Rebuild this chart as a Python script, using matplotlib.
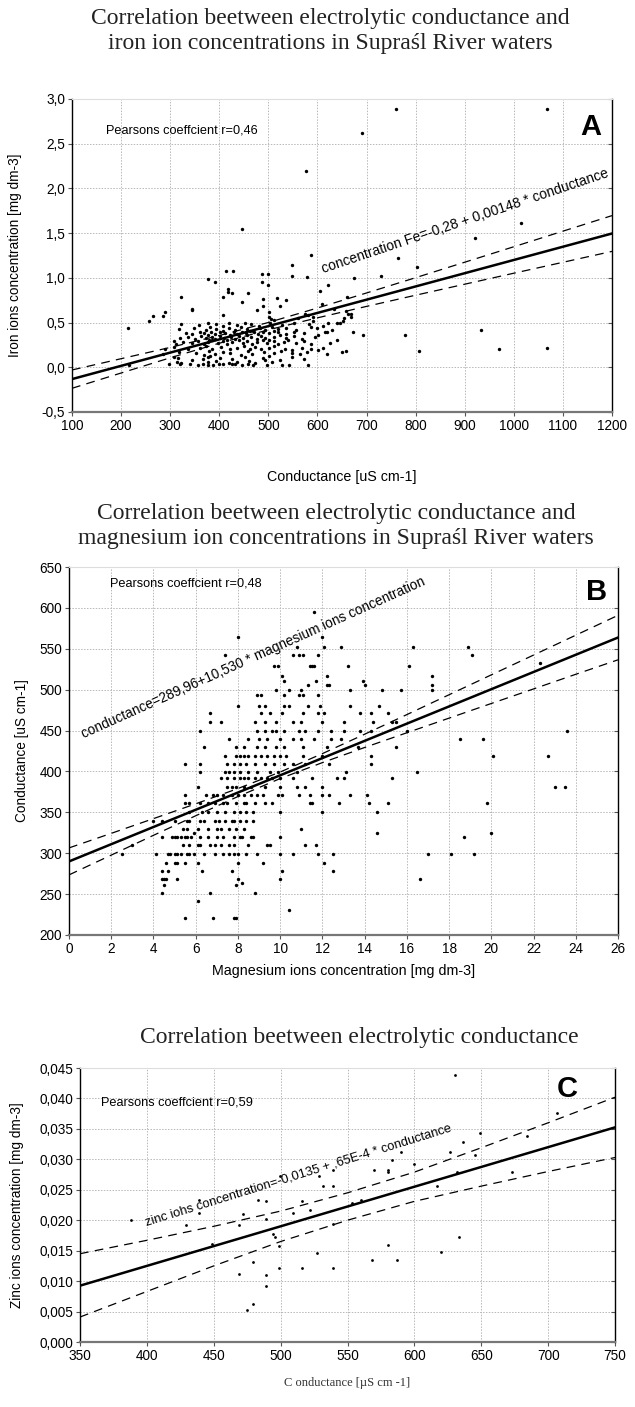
import numpy as np
import matplotlib
matplotlib.use("Agg")
import matplotlib.pyplot as plt
from matplotlib.lines import TICKLEFT

plt.rcParams['font.family'] = ['Liberation Sans', 'DejaVu Sans']

# ---------------- Panel A data (iron vs conductance) ----------------
A_title = "Correlation beetween electrolytic conductance and\niron ion concentrations in Supraśl River waters"
A_x = [216, 297, 320, 341, 356, 367, 377, 387, 399, 407, 426, 432, 447, 459, 469, 497, 527, 543, 581,
       313, 323, 344, 378, 394, 419, 436, 461, 472, 494, 507,
       307, 316, 367, 378, 382, 402, 426, 453, 490, 524, 548, 573,
       286, 317, 353, 368, 379, 392, 408, 422, 444, 459, 467, 492, 502, 512, 525, 549, 565, 578,
       290, 308, 336, 361, 373, 386, 403, 422, 437, 451, 462, 472, 486, 501, 511, 533, 549, 569, 586,
       307, 311, 326, 344, 357, 369, 378, 386, 398, 407, 415, 426, 440, 449, 457, 466, 477, 490, 498, 511, 519, 532, 540, 557, 573, 586,
       319, 336, 351, 362, 373, 379, 386, 392, 401, 409, 416, 423, 432, 440, 448, 457, 465, 476, 486, 494, 502, 512, 523, 536, 552, 569, 594,
       332, 344, 361, 369, 378, 384, 392, 402, 412, 421, 429, 437, 446, 454, 462, 471, 479, 490, 501, 511, 519, 536, 552, 573, 602, 619,
       317, 348, 373, 382, 394, 407, 419, 432, 444, 457, 469, 482, 494, 507, 519, 536, 557, 586,
       323, 359, 378, 394, 407, 419, 436, 453, 465, 480, 503, 527, 552, 582, 611, 622,
       214, 257, 266, 286, 289, 323, 344, 344, 377, 392, 414, 428, 418, 418, 426, 408, 447, 447, 458, 488,
       500, 488, 500, 489, 489, 477, 501, 502, 506, 512, 517, 524, 536, 549, 549, 578, 577, 586, 606, 610,
       622, 634, 639, 660, 659, 675, 691, 729, 760, 765, 802, 692, 778, 806, 659, 620, 601, 921, 933, 969,
       1015, 1068, 1068, 407, 560, 575, 590, 600, 615, 630, 645, 655, 668, 672, 640, 625, 612, 650, 668, 580,
       590, 652, 663]
A_y = [0.02, 0.04, 0.04, 0.04, 0.02, 0.04, 0.02, 0.03, 0.04, 0.04, 0.04, 0.04, 0.02, 0.04, 0.02, 0.02, 0.02, 0.02, 0.02,
       0.06, 0.05, 0.08, 0.06, 0.07, 0.05, 0.06, 0.07, 0.05, 0.08, 0.06,
       0.12, 0.10, 0.09, 0.11, 0.13, 0.10, 0.09, 0.12, 0.10, 0.08, 0.11, 0.09,
       0.15, 0.17, 0.16, 0.14, 0.18, 0.15, 0.17, 0.16, 0.14, 0.18, 0.15, 0.17, 0.13, 0.16, 0.18, 0.16, 0.15, 0.17,
       0.21, 0.23, 0.20, 0.22, 0.24, 0.21, 0.23, 0.20, 0.22, 0.24, 0.21, 0.23, 0.20, 0.22, 0.24, 0.21, 0.19, 0.22, 0.20,
       0.29, 0.26, 0.28, 0.27, 0.29, 0.26, 0.28, 0.30, 0.27, 0.29, 0.26, 0.28, 0.30, 0.27, 0.29, 0.26, 0.28, 0.30, 0.27, 0.29, 0.26, 0.28, 0.30, 0.27, 0.29, 0.26,
       0.33, 0.34, 0.32, 0.35, 0.33, 0.31, 0.34, 0.32, 0.35, 0.33, 0.31, 0.34, 0.32, 0.35, 0.33, 0.36, 0.34, 0.32, 0.35, 0.33, 0.31, 0.34, 0.36, 0.33, 0.35, 0.32, 0.34,
       0.38, 0.37, 0.39, 0.38, 0.36, 0.39, 0.37, 0.40, 0.38, 0.36, 0.39, 0.37, 0.40, 0.38, 0.41, 0.39, 0.37, 0.40, 0.38, 0.41, 0.39, 0.37, 0.40, 0.38, 0.36, 0.39,
       0.43, 0.44, 0.42, 0.45, 0.43, 0.41, 0.44, 0.42, 0.45, 0.43, 0.41, 0.44, 0.42, 0.45, 0.43, 0.44, 0.42, 0.45,
       0.48, 0.47, 0.49, 0.48, 0.46, 0.49, 0.47, 0.50, 0.48, 0.46, 0.49, 0.47, 0.50, 0.48, 0.46, 0.49,
       0.44, 0.52, 0.57, 0.57, 0.62, 0.79, 0.65, 0.64, 0.99, 0.95, 1.08, 1.08, 0.87, 0.84, 0.83, 0.79, 0.73, 1.55, 0.83, 1.04,
       1.04, 0.95, 0.92, 0.76, 0.68, 0.64, 0.62, 0.56, 0.54, 0.53, 0.77, 0.69, 0.75, 1.14, 1.02, 1.01, 2.19, 1.26, 0.85, 0.71,
       0.92, 0.65, 0.49, 0.79, 0.63, 1.00, 2.62, 1.02, 2.89, 1.22, 1.12, 0.36, 0.36, 0.18, 0.18, 0.15, 0.19, 1.45, 0.42, 0.21,
       1.61, 2.89, 0.22, 0.58, 0.55, 0.60, 0.52, 0.44, 0.40, 0.42, 0.50, 0.55, 0.60, 0.40, 0.30, 0.27, 0.22, 0.17, 0.56, 0.58,
       0.56, 0.52, 0.60]
A_fit_x = [100, 200, 300, 400, 500, 600, 700, 800, 900, 1000, 1100, 1200]
A_fit_y = [-0.132, 0.016, 0.164, 0.312, 0.460, 0.608, 0.756, 0.904, 1.052, 1.200, 1.348, 1.496]
A_upper = [-0.03, 0.096, 0.222, 0.355, 0.501, 0.663, 0.831, 1.002, 1.175, 1.348, 1.522, 1.696]
A_lower = [-0.235, -0.064, 0.106, 0.269, 0.419, 0.553, 0.681, 0.806, 0.929, 1.052, 1.174, 1.296]
A_xticks = [100, 200, 300, 400, 500, 600, 700, 800, 900, 1000, 1100, 1200]
A_yticks = [-0.5, 0.0, 0.5, 1.0, 1.5, 2.0, 2.5, 3.0]
A_yticklabels = ['-0,5', '0,0', '0,5', '1,0', '1,5', '2,0', '2,5', '3,0']
A_xlabel = "Conductance [uS cm-1]"
A_ylabel = "Iron ions concentration [mg dm-3]"
A_pearson = "Pearsons coeffcient r=0,46"
A_eq = "concentration Fe=-0,28 + 0,00148 * conductance"

# ---------------- Panel B data (conductance vs magnesium) ----------------
B_title = "Correlation beetween electrolytic conductance and\nmagnesium ion concentrations in Supraśl River waters"
B_rows = {
    221: [5.5, 6.8, 7.8, 7.9],
    230: [10.4],
    241: [6.1],
    251: [4.4, 6.7, 8.8],
    261: [4.5, 7.9],
    264: [8.2],
    269: [4.4, 4.5, 4.6, 5.1, 8.0, 10.0, 16.6],
    278: [4.4, 4.7, 6.3, 7.7, 10.1, 12.5],
    288: [4.6, 5.0, 5.1, 5.5, 6.1, 8.0, 9.2, 12.1],
    299: [2.5, 4.1, 4.7, 4.8, 5.0, 5.1, 5.3, 5.6, 5.7, 5.9, 6.4, 6.9, 7.3, 7.6, 7.8, 8.0, 8.4, 8.9, 10.0, 10.6, 11.8, 12.5, 17.0, 18.1, 19.2],
    310: [3.0, 5.4, 5.7, 6.1, 6.2, 6.7, 6.9, 7.2, 7.6, 7.8, 8.5, 9.4, 9.5, 11.2, 11.7],
    320: [4.4, 4.9, 5.0, 5.1, 5.3, 5.5, 5.6, 5.8, 6.2, 6.6, 7.0, 7.3, 7.8, 8.1, 8.2, 8.6, 8.7, 10.0, 18.7],
    325: [5.9, 14.6, 20.0],
    330: [5.4, 5.6, 6.1, 6.6, 7.0, 7.2, 7.6, 7.9, 8.3, 11.0],
    340: [4.0, 4.4, 5.0, 5.6, 5.7, 6.2, 6.4, 6.9, 7.1, 7.4, 7.7, 7.8, 8.1, 8.4, 8.7],
    350: [5.7, 6.3, 6.6, 7.0, 7.4, 7.8, 8.1, 8.4, 8.7, 10.0, 12.0, 14.6],
    361: [5.5, 5.7, 6.2, 6.6, 6.9, 7.3, 7.5, 7.9, 8.3, 8.4, 8.8, 9.3, 9.6, 11.4, 11.5, 12.8, 14.2, 15.1, 19.8],
    371: [5.5, 6.5, 6.8, 7.0, 7.3, 7.7, 8.0, 8.3, 8.6, 8.9, 9.2, 9.9, 10.1, 10.9, 11.4, 12.0, 12.3, 13.3, 14.1],
    381: [6.1, 7.5, 7.7, 7.9, 8.3, 8.6, 9.3, 10.0, 10.8, 11.2, 12.0, 23.0, 23.5],
    392: [7.2, 7.5, 7.8, 8.1, 8.3, 8.5, 8.8, 9.1, 9.4, 9.6, 10.0, 10.6, 11.5, 12.7, 13.0, 15.3],
    399: [6.2, 7.4, 7.6, 7.8, 8.1, 8.5, 8.9, 9.5, 9.9, 10.8, 13.1, 16.5],
    409: [5.5, 6.2, 7.5, 7.8, 8.1, 8.4, 8.8, 9.3, 9.7, 10.2, 10.6, 11.2, 12.3, 14.3],
    419: [7.4, 7.9, 8.1, 8.3, 8.5, 8.8, 9.1, 9.4, 9.7, 10.0, 10.3, 11.1, 12.0, 14.3, 20.1, 22.7],
    430: [6.4, 7.9, 8.3, 8.9, 9.3, 9.8, 10.2, 11.1, 12.2, 13.7, 15.5],
    440: [7.6, 8.5, 9.0, 9.4, 10.0, 10.6, 11.0, 11.6, 12.4, 12.9, 18.5, 19.6],
    450: [6.2, 8.9, 9.3, 9.6, 9.8, 10.2, 10.9, 11.2, 11.8, 12.4, 13.0, 13.8, 14.3, 16.0, 23.6],
    460: [6.7, 7.2, 8.8, 9.3, 9.8, 10.6, 11.0, 12.0, 13.0, 14.4, 15.3, 15.5],
    471: [6.7, 9.1, 9.5, 10.1, 11.1, 11.8, 12.1, 13.8, 14.3, 15.1],
    480: [8.0, 9.0, 9.3, 10.2, 10.4, 11.3, 11.9, 13.3, 14.7],
    493: [8.9, 9.1, 10.2, 10.9, 11.1, 11.8],
    499: [9.8, 10.4, 11.0, 13.3, 14.8, 15.7, 17.2],
    506: [11.3, 12.2, 12.3, 14.0, 17.2],
    511: [10.2, 11.7, 13.9],
    517: [10.1, 12.2, 17.2],
    529: [9.7, 9.9, 11.4, 11.5, 11.6, 13.2, 16.1],
    532: [22.3],
    542: [7.4, 10.6, 10.9, 11.1, 11.8, 19.1],
    552: [10.8, 12.1, 12.9, 16.3, 18.9],
    565: [8.0, 12.0],
    595: [11.6],
}
B_fit_x = [0, 2, 4, 6, 8, 10, 12, 14, 16, 18, 20, 22, 24, 26]
B_fit_y = [289.96, 311.02, 332.08, 353.14, 374.2, 395.26, 416.32, 437.38, 458.44, 479.5, 500.56, 521.62, 542.68, 563.74]
B_upper = [306.5, 324.3, 342.3, 360.4, 379.1, 399.3, 421.8, 445.5, 469.5, 493.8, 518.1, 542.3, 566.6, 590.9]
B_lower = [273.5, 297.7, 321.9, 345.8, 369.3, 391.3, 410.8, 429.3, 447.3, 465.2, 483.1, 500.9, 518.8, 536.5]
B_xticks = [0, 2, 4, 6, 8, 10, 12, 14, 16, 18, 20, 22, 24, 26]
B_yticks = [200, 250, 300, 350, 400, 450, 500, 550, 600, 650]
B_xlabel = "Magnesium ions concentration [mg dm-3]"
B_ylabel = "Conductance [uS cm-1]"
B_pearson = "Pearsons coeffcient r=0,48"
B_eq = "conductance=289,96+10,530 * magnesium ions concentration"

# ---------------- Panel C data (zinc vs conductance) ----------------
C_title = "Correlation beetween electrolytic conductance"
C_x = [388, 429, 439, 439, 449, 469, 472, 469, 479, 479, 475, 483, 489, 489, 489, 489, 494, 496, 499, 499,
       499.5, 509, 516, 516, 522, 527, 529, 532, 539, 539, 539, 539, 553, 560, 568, 570, 580, 580, 580, 583,
       587, 590, 600, 617, 620, 627, 630, 632, 633, 636, 645, 649, 673, 684, 707]
C_y = [0.0201, 0.0192, 0.0234, 0.0212, 0.0161, 0.0192, 0.0210, 0.0111, 0.0132, 0.0062, 0.0052, 0.0234, 0.0232, 0.0202, 0.0110, 0.0092, 0.0178, 0.0172, 0.0157, 0.0121,
       0.0272, 0.0212, 0.0232, 0.0121, 0.0217, 0.0146, 0.0272, 0.0256, 0.0283, 0.0256, 0.0194, 0.0121, 0.0228, 0.0234, 0.0135, 0.0283, 0.0283, 0.0280, 0.0159, 0.0299,
       0.0135, 0.0312, 0.0293, 0.0256, 0.0148, 0.0312, 0.0438, 0.0279, 0.0173, 0.0328, 0.0307, 0.0344, 0.0279, 0.0339, 0.0376]
C_fit_x = [350, 400, 450, 500, 550, 600, 650, 700, 750]
C_fit_y = [0.00925, 0.0125, 0.01575, 0.019, 0.02225, 0.0255, 0.02875, 0.032, 0.03525]
C_upper = [0.0145, 0.0167, 0.0190, 0.0215, 0.0245, 0.0279, 0.0319, 0.0360, 0.0402]
C_lower = [0.0041, 0.0083, 0.0125, 0.0165, 0.0200, 0.0231, 0.0256, 0.0280, 0.0303]
C_xticks = [350, 400, 450, 500, 550, 600, 650, 700, 750]
C_yticks = [0.0, 0.005, 0.010, 0.015, 0.020, 0.025, 0.030, 0.035, 0.040, 0.045]
C_yticklabels = ['0,000', '0,005', '0,010', '0,015', '0,020', '0,025', '0,030', '0,035', '0,040', '0,045']
C_xlabel = "C onductance [µS cm -1]"
C_ylabel = "Zinc ions concentration [mg dm-3]"
C_pearson = "Pearsons coeffcient r=0,59"
C_eq = "zinc iohs concentration=-0,0135 + ,65E-4 * conductance"

W, H = 635, 1407
fig = plt.figure(figsize=(W / 100, H / 100), dpi=100)
serif = ['Liberation Serif', 'DejaVu Serif']


def make_axes(left, top, right, bottom):
    return fig.add_axes([left / W, 1 - bottom / H, (right - left) / W, (bottom - top) / H])


def style(ax, xticks, yticks, xlim, ylim, yticklabels=None):
    ax.set_xlim(*xlim)
    ax.set_ylim(*ylim)
    ax.set_xticks(xticks)
    ax.set_yticks(yticks)
    if yticklabels is not None:
        ax.set_yticklabels(yticklabels)
    ax.grid(True, color='#b8b8b8', linestyle=(0, (1.5, 1.5)), linewidth=0.7)
    ax.set_axisbelow(True)
    ax.tick_params(axis='both', labelsize=9.8, length=3, width=0.8, color='#555555', pad=2)
    ax.tick_params(axis='y', right=True, direction='out')
    for t in ax.yaxis.get_major_ticks():
        t.tick2line.set_marker(TICKLEFT)
        t.tick2line.set_color('black')
    for s in ['left', 'right']:
        ax.spines[s].set_color('black')
        ax.spines[s].set_linewidth(1.0)
    ax.spines['bottom'].set_color('#777777')
    ax.spines['bottom'].set_linewidth(1.6)
    ax.spines['top'].set_color('#dddddd')
    ax.spines['top'].set_linewidth(0.8)


def draw_fit(ax, fx, fy, up, lo):
    ax.plot(fx, fy, color='black', lw=1.8, zorder=4)
    ax.plot(fx, up, color='black', lw=0.9, dashes=(7, 5), zorder=4)
    ax.plot(fx, lo, color='black', lw=0.9, dashes=(7, 5), zorder=4)


def rotated_text(ax, p0, p1, txt, size):
    d0 = ax.transData.transform(p0)
    d1 = ax.transData.transform(p1)
    ang = np.degrees(np.arctan2(d1[1] - d0[1], d1[0] - d0[0]))
    ax.text(p0[0], p0[1], txt, rotation=ang, rotation_mode='anchor', ha='left', va='baseline',
            fontsize=size, zorder=5)


def place_labels(ax, xl, yl, xlab_y, ylab_x, xsize=10.3, ysize=9.8, xfamily=None, xcolor='black'):
    kw = {}
    if xfamily:
        kw['family'] = xfamily
    ax.set_xlabel(xl, fontsize=xsize, color=xcolor, **kw)
    ax.set_ylabel(yl, fontsize=ysize)
    inv = ax.transAxes.inverted()
    _, yax = inv.transform((0, H - xlab_y))
    xax, _ = inv.transform((ylab_x, 0))
    ax.xaxis.set_label_coords(0.5, yax)
    ax.xaxis.label.set_va('center')
    ax.yaxis.set_label_coords(xax, 0.5)
    ax.yaxis.label.set_va('center')


# ---- Panel A ----
axA = make_axes(72, 99, 612, 412)
style(axA, A_xticks, A_yticks, (100, 1200), (-0.5, 3.0), A_yticklabels)
axA.scatter(A_x, A_y, s=6, color='black', linewidths=0, zorder=3)
draw_fit(axA, A_fit_x, A_fit_y, A_upper, A_lower)
place_labels(axA, A_xlabel, A_ylabel, 477, 15)
axA.text(0.063, 0.9, A_pearson, transform=axA.transAxes, fontsize=9.2, va='center')
axA.text(0.98, 0.955, 'A', transform=axA.transAxes, fontsize=21, fontweight='bold', ha='right', va='top')
rotated_text(axA, (612, 1.05), (1190, 2.12), A_eq, 10)
fig.text(330 / W, 1 - 31 / H, A_title, ha='center', va='center', fontsize=17, family=serif,
         color='#222222', linespacing=1.3)

# ---- Panel B ----
axB = make_axes(69, 567, 618, 935)
style(axB, B_xticks, B_yticks, (0, 26), (200, 650))
B_x = [m for level, ms in B_rows.items() for m in ms]
B_y = [level for level, ms in B_rows.items() for m in ms]
axB.scatter(B_x, B_y, s=6, color='black', linewidths=0, zorder=3)
draw_fit(axB, B_fit_x, B_fit_y, B_upper, B_lower)
place_labels(axB, B_xlabel, B_ylabel, 971, 22)
axB.text(0.074, 0.955, B_pearson, transform=axB.transAxes, fontsize=9.2, va='center')
axB.text(0.98, 0.97, 'B', transform=axB.transAxes, fontsize=21, fontweight='bold', ha='right', va='top')
rotated_text(axB, (0.7, 440), (17.6, 636), B_eq, 9.8)
fig.text(336 / W, 1 - 526 / H, B_title, ha='center', va='center', fontsize=17, family=serif,
         color='#222222', linespacing=1.3)

# ---- Panel C ----
axC = make_axes(80, 1068, 615, 1342)
style(axC, C_xticks, C_yticks, (350, 750), (0, 0.045), C_yticklabels)
axC.scatter(C_x, C_y, s=4, color='black', linewidths=0, zorder=3)
draw_fit(axC, C_fit_x, C_fit_y, C_upper, C_lower)
place_labels(axC, C_xlabel, C_ylabel, 1383, 17, xsize=9, xfamily=serif, xcolor='#333333')
axC.text(0.04, 0.875, C_pearson, transform=axC.transAxes, fontsize=9.2, va='center')
axC.text(0.93, 0.975, 'C', transform=axC.transAxes, fontsize=21, fontweight='bold', ha='right', va='top')
rotated_text(axC, (400, 0.0191), (636, 0.0352), C_eq, 9.3)
fig.text(359 / W, 1 - 1037 / H, C_title, ha='center', va='center', fontsize=17, family=serif,
         color='#222222')

fig.savefig('out.png', dpi=100)
